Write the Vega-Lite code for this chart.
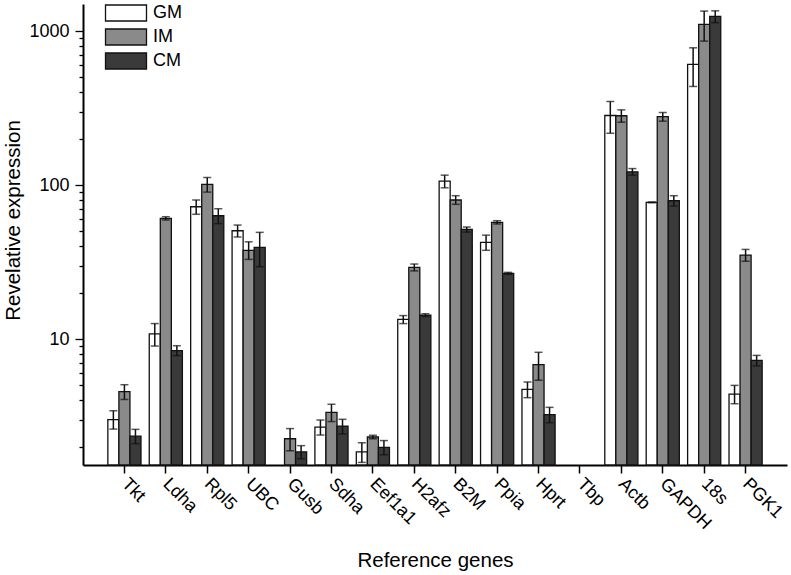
{
  "$schema": "https://vega.github.io/schema/vega-lite/v6.json",
  "autosize": {"type": "none"},
  "padding": {"left": 83, "top": 4, "right": 4, "bottom": 110},
  "width": 704,
  "height": 461,
  "background": "white",
  "config": {
    "view": {"stroke": null},
    "font": "Liberation Sans",
    "axis": {"labelFont": "Liberation Sans", "titleFont": "Liberation Sans", "labelColor": "black", "titleColor": "black", "domainColor": "black", "tickColor": "black", "titleFontWeight": "normal"}
  },
  "data": {
    "values": [
      {"gene": "Tkt", "group": "GM", "value": 3.0, "lo": 2.6, "hi": 3.42},
      {"gene": "Tkt", "group": "IM", "value": 4.55, "lo": 4.05, "hi": 5.05},
      {"gene": "Tkt", "group": "CM", "value": 2.34, "lo": 2.09, "hi": 2.59},
      {"gene": "Ldha", "group": "GM", "value": 10.8, "lo": 9.0, "hi": 12.6},
      {"gene": "Ldha", "group": "IM", "value": 60.8, "lo": 59.3, "hi": 62.3},
      {"gene": "Ldha", "group": "CM", "value": 8.4, "lo": 7.8, "hi": 9.05},
      {"gene": "Rpl5", "group": "GM", "value": 72.3, "lo": 64.6, "hi": 80},
      {"gene": "Rpl5", "group": "IM", "value": 101, "lo": 90, "hi": 112},
      {"gene": "Rpl5", "group": "CM", "value": 63.2, "lo": 56.2, "hi": 70.2},
      {"gene": "UBC", "group": "GM", "value": 50.5, "lo": 46, "hi": 55},
      {"gene": "UBC", "group": "IM", "value": 37.7, "lo": 32.9, "hi": 42.8},
      {"gene": "UBC", "group": "CM", "value": 39.4, "lo": 29.5, "hi": 49.3},
      {"gene": "Gusb", "group": "IM", "value": 2.25, "lo": 1.88, "hi": 2.62},
      {"gene": "Gusb", "group": "CM", "value": 1.85, "lo": 1.67, "hi": 2.03},
      {"gene": "Sdha", "group": "GM", "value": 2.68, "lo": 2.38, "hi": 2.98},
      {"gene": "Sdha", "group": "IM", "value": 3.34, "lo": 2.91, "hi": 3.77},
      {"gene": "Sdha", "group": "CM", "value": 2.72, "lo": 2.42, "hi": 3.01},
      {"gene": "Eef1a1", "group": "GM", "value": 1.85, "lo": 1.58, "hi": 2.12},
      {"gene": "Eef1a1", "group": "IM", "value": 2.31, "lo": 2.25, "hi": 2.37},
      {"gene": "Eef1a1", "group": "CM", "value": 1.98, "lo": 1.77, "hi": 2.19},
      {"gene": "H2afz", "group": "GM", "value": 13.4, "lo": 12.6, "hi": 14.2},
      {"gene": "H2afz", "group": "IM", "value": 29.2, "lo": 27.7, "hi": 30.7},
      {"gene": "H2afz", "group": "CM", "value": 14.3, "lo": 14.0, "hi": 14.6},
      {"gene": "B2M", "group": "GM", "value": 106, "lo": 96, "hi": 116},
      {"gene": "B2M", "group": "IM", "value": 80, "lo": 75, "hi": 85.3},
      {"gene": "B2M", "group": "CM", "value": 51.5, "lo": 49.5, "hi": 53.4},
      {"gene": "Ppia", "group": "GM", "value": 42.5, "lo": 37.7, "hi": 47.3},
      {"gene": "Ppia", "group": "IM", "value": 57.3, "lo": 55.9, "hi": 58.7},
      {"gene": "Ppia", "group": "CM", "value": 26.7, "lo": 26.3, "hi": 27.1},
      {"gene": "Hprt", "group": "GM", "value": 4.71, "lo": 4.16, "hi": 5.26},
      {"gene": "Hprt", "group": "IM", "value": 6.81, "lo": 5.4, "hi": 8.2},
      {"gene": "Hprt", "group": "CM", "value": 3.23, "lo": 2.86, "hi": 3.6},
      {"gene": "Actb", "group": "GM", "value": 283, "lo": 217, "hi": 349},
      {"gene": "Actb", "group": "IM", "value": 282, "lo": 256, "hi": 308},
      {"gene": "Actb", "group": "CM", "value": 122, "lo": 116, "hi": 128},
      {"gene": "GAPDH", "group": "GM", "value": 77.2, "lo": 76.7, "hi": 77.7},
      {"gene": "GAPDH", "group": "IM", "value": 278, "lo": 260, "hi": 296},
      {"gene": "GAPDH", "group": "CM", "value": 79.1, "lo": 73, "hi": 85.3},
      {"gene": "18s", "group": "GM", "value": 608, "lo": 437, "hi": 779},
      {"gene": "18s", "group": "IM", "value": 1105, "lo": 861, "hi": 1349},
      {"gene": "18s", "group": "CM", "value": 1245, "lo": 1135, "hi": 1354},
      {"gene": "PGK1", "group": "GM", "value": 4.39, "lo": 3.8, "hi": 5.0},
      {"gene": "PGK1", "group": "IM", "value": 35.1, "lo": 32, "hi": 38.2},
      {"gene": "PGK1", "group": "CM", "value": 7.27, "lo": 6.7, "hi": 7.83}
    ]
  },
  "encoding": {
    "x": {
      "field": "gene", "type": "nominal",
      "scale": {"domain": ["Tkt","Ldha","Rpl5","UBC","Gusb","Sdha","Eef1a1","H2afz","B2M","Ppia","Hprt","Tbp","Actb","GAPDH","18s","PGK1"], "paddingInner": 0.2, "paddingOuter": 0.6},
      "axis": {
        "title": "Reference genes", "titleFontSize": 20.5, "titleY": 101, "titleBaseline": "alphabetic",
        "labelAngle": 45, "labelAlign": "left", "labelBaseline": "middle", "labelFontSize": 18, "labelPadding": 8,
        "tickSize": 8, "tickWidth": 1.5, "domainWidth": 2, "bandPosition": 0.5
      }
    },
    "xOffset": {"field": "group", "type": "nominal", "scale": {"domain": ["GM","IM","CM"], "paddingInner": 0, "paddingOuter": 0}}
  },
  "layer": [
    {
      "mark": {"type": "bar", "stroke": "#111111", "strokeWidth": 1.3},
      "encoding": {
        "y": {
          "field": "value", "type": "quantitative",
          "scale": {"type": "log", "domain": [1.52, 1500], "nice": false},
          "axis": {
            "title": "Revelative expression", "titleFontSize": 20.5, "titleX": -70, "titleY": 216, "titleBaseline": "middle",
            "values": [2,3,4,5,6,7,8,9,10,20,30,40,50,60,70,80,90,100,200,300,400,500,600,700,800,900,1000],
            "format": "d",
            "labelExpr": "datum.value == 10 || datum.value == 100 || datum.value == 1000 ? datum.label : ''",
            "labelFontSize": 18, "labelPadding": 6,
            "tickSize": {"condition": {"test": "datum.value == 10 || datum.value == 100 || datum.value == 1000", "value": 8}, "value": 4},
            "tickWidth": 1.3, "domainWidth": 2, "grid": false
          }
        },
        "y2": {"datum": 1.52},
        "fill": {
          "field": "group", "type": "nominal",
          "scale": {"domain": ["GM","IM","CM"], "range": ["#ffffff","#8a8a8a","#3a3a3a"]},
          "legend": {
            "title": null, "orient": "none", "legendX": 32, "legendY": -2, "padding": 0,
            "symbolType": "M-2,-0.78H2V0.78H-2Z", "symbolSize": 420, "symbolStrokeColor": "#111111", "symbolStrokeWidth": 1.3,
            "labelFontSize": 18, "labelFont": "Liberation Sans", "labelColor": "black", "labelOffset": 16, "rowPadding": 2
          }
        }
      }
    },
    {
      "mark": {"type": "rule", "color": "#111111", "strokeWidth": 1.5},
      "encoding": {
        "y": {"field": "lo", "type": "quantitative"},
        "y2": {"field": "hi"}
      }
    },
    {
      "mark": {"type": "tick", "color": "#111111", "thickness": 1.5, "size": 8},
      "encoding": {"y": {"field": "lo", "type": "quantitative"}}
    },
    {
      "mark": {"type": "tick", "color": "#111111", "thickness": 1.5, "size": 8},
      "encoding": {"y": {"field": "hi", "type": "quantitative"}}
    }
  ]
}
